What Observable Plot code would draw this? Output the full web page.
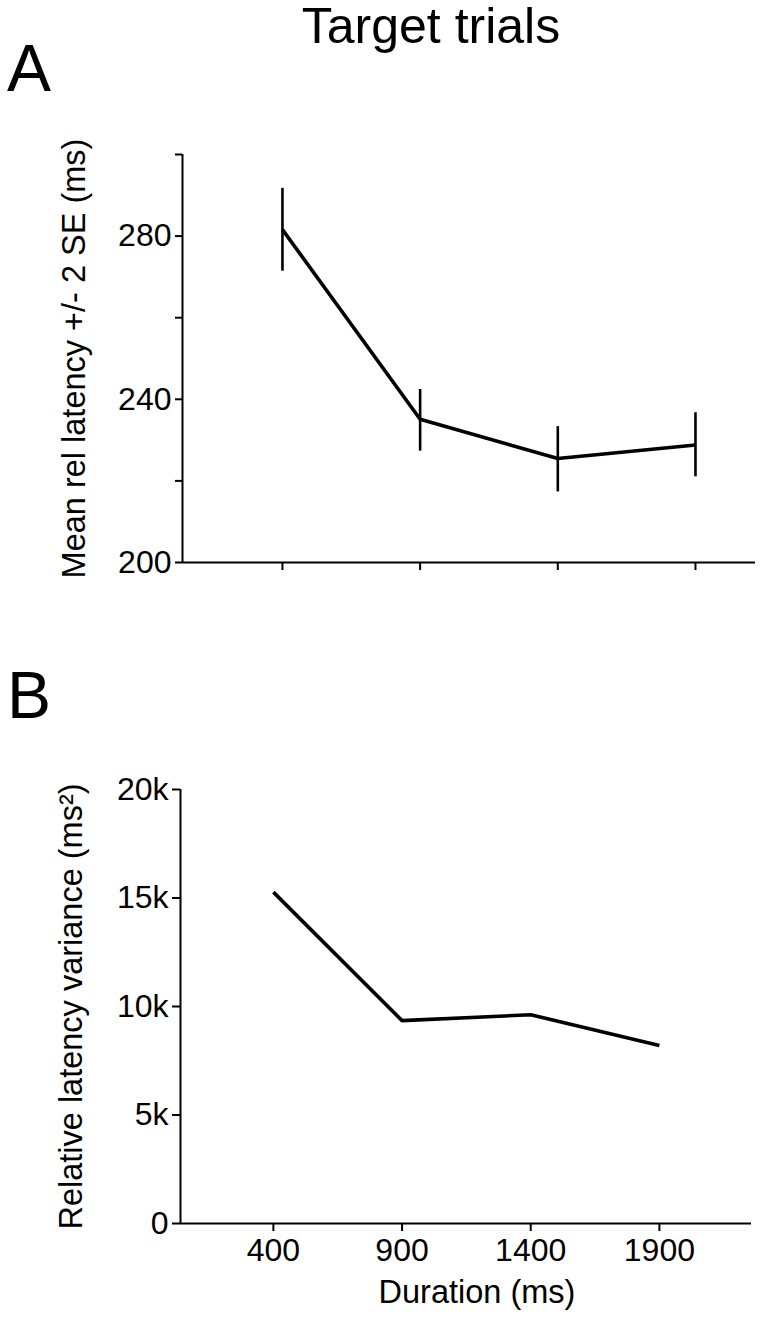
<!DOCTYPE html>
<html>
<head>
<meta charset="utf-8">
<script src="https://cdn.jsdelivr.net/npm/d3@7"></script>
<script src="https://cdn.jsdelivr.net/npm/@observablehq/plot@0.6"></script>
<style>
  html, body { margin: 0; padding: 0; background: #fff; }
  #root { position: relative; width: 764px; height: 1319px; font-family: "Liberation Sans", Arial, sans-serif; color: #000; }
  .abs { position: absolute; line-height: 1; white-space: nowrap; }
  #title { top: 1px; left: 0; width: 862px; text-align: center; font-size: 50px; }
  #lblA { top: 35px; left: 7px; font-size: 66px; }
  #lblB { top: 662px; left: 7px; font-size: 66px; }
  #panelA { top: 100px; left: 0; }
  #panelB { top: 740px; left: 0; }
</style>
</head>
<body>
<div id="root">
  <div id="title" class="abs">Target trials</div>
  <div id="lblA" class="abs">A</div>
  <div id="lblB" class="abs">B</div>
  <div id="panelA" class="abs"></div>
  <div id="panelB" class="abs"></div>
</div>
<script>
// ---- data ----
const durations = [400, 900, 1400, 1900];
const meanLatency = [281.6, 235.1, 225.5, 228.8];
const seLow = [271.4, 227.3, 217.3, 221.0];
const seHigh = [291.7, 242.4, 233.3, 236.7];
const variance = [15270, 9350, 9620, 8200];

const yTicksA = [200, 220, 240, 260, 280, 300];
const yLabelsA = [200, 240, 280];
const yTicksB = [0, 5000, 10000, 15000, 20000];
const yLabelsB = ["0", "5k", "10k", "15k", "20k"];
const xTicks = [400, 900, 1400, 1900];

const yTitleA = "Mean rel latency +/- 2 SE (ms)";
const yTitleB = "Relative latency variance (ms\u00B2)";
const xTitleB = "Duration (ms)";

const rowsA = durations.map((d, i) => ({d, m: meanLatency[i], lo: seLow[i], hi: seHigh[i]}));
const rowsB = durations.map((d, i) => ({d, v: variance[i]}));

const FONT = "Liberation Sans, Arial, sans-serif";

const xDomA = [37, 2118];
const xDomB = [39, 2258];

const plotA = Plot.plot({
  width: 764, height: 500,
  marginTop: 54, marginBottom: 38, marginLeft: 182, marginRight: 9,
  style: {fontFamily: FONT, fontSize: "32px", color: "#000", background: "transparent", overflow: "visible"},
  x: {domain: xDomA, axis: null},
  y: {domain: [200, 300], axis: null},
  marks: [
    Plot.axisY({ticks: yTicksA, tickFormat: d => yLabelsA.includes(d) ? String(d) : "", tickSize: 7, tickPadding: 4, strokeWidth: 2, label: null, fontSize: 32}),
    Plot.axisX({ticks: xTicks, tickFormat: () => "", tickSize: 8, strokeWidth: 2, label: null}),
    Plot.ruleX([xDomA[0]], {y1: 200, y2: 300, stroke: "#000", strokeWidth: 2}),
    Plot.ruleY([200], {x1: xDomA[0], x2: xDomA[1], stroke: "#000", strokeWidth: 2}),
    Plot.ruleX(rowsA, {x: "d", y1: "lo", y2: "hi", stroke: "#000", strokeWidth: 2.6}),
    Plot.line(rowsA, {x: "d", y: "m", stroke: "#000", strokeWidth: 3.6, strokeLinejoin: "miter", strokeLinecap: "butt"}),
    Plot.text([yTitleA], {frameAnchor: "left", dx: -108, rotate: -90, fontSize: 32.5, fill: "#000", textAnchor: "middle", lineAnchor: "middle"})
  ]
});
document.getElementById("panelA").appendChild(plotA);

const plotB = Plot.plot({
  width: 764, height: 579,
  marginTop: 49, marginBottom: 96, marginLeft: 180, marginRight: 13,
  style: {fontFamily: FONT, fontSize: "32px", color: "#000", background: "transparent", overflow: "visible"},
  x: {domain: xDomB, axis: null},
  y: {domain: [0, 20000], axis: null},
  marks: [
    Plot.axisY({ticks: yTicksB, tickFormat: d => yLabelsB[yTicksB.indexOf(d)], tickSize: 8, tickPadding: 4, strokeWidth: 2, label: null, fontSize: 32}),
    Plot.axisX({ticks: xTicks, tickFormat: d => String(d), tickSize: 8, tickPadding: 7, strokeWidth: 2, label: null, fontSize: 32}),
    Plot.ruleX([xDomB[0]], {y1: 0, y2: 20000, stroke: "#000", strokeWidth: 2}),
    Plot.ruleY([0], {x1: xDomB[0], x2: xDomB[1], stroke: "#000", strokeWidth: 2}),
    Plot.line(rowsB, {x: "d", y: "v", stroke: "#000", strokeWidth: 3.6, strokeLinejoin: "miter", strokeLinecap: "butt"}),
    Plot.text([yTitleB], {frameAnchor: "left", dx: -109, rotate: -90, fontSize: 32.5, fill: "#000", textAnchor: "middle", lineAnchor: "middle"}),
    Plot.text([xTitleB], {frameAnchor: "bottom", dx: 11, dy: 79, fontSize: 32.5, fill: "#000", lineAnchor: "bottom"})
  ]
});
document.getElementById("panelB").appendChild(plotB);
</script>
</body>
</html>
